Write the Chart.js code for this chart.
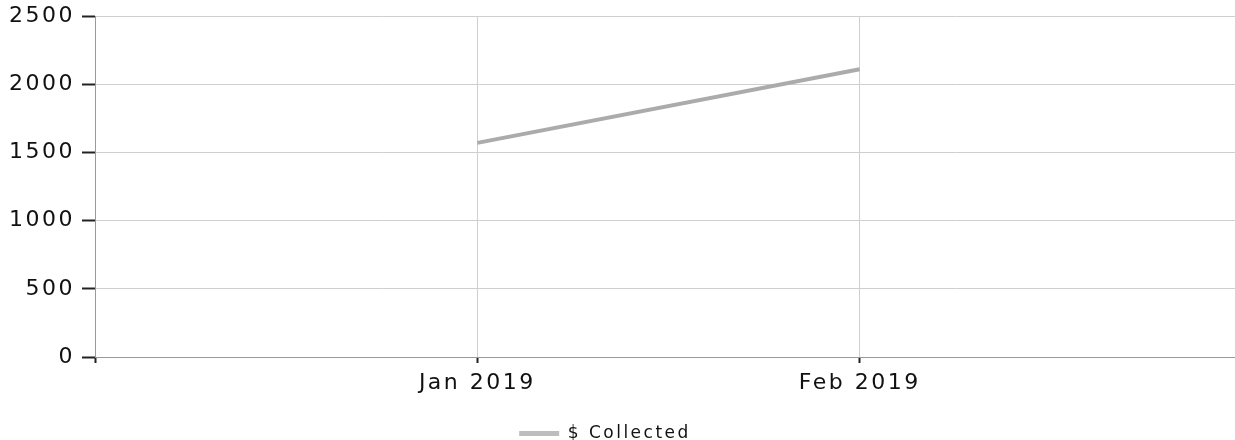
<!DOCTYPE html>
<html>
<head>
<meta charset="utf-8">
<title>$ Collected</title>
<script src="https://cdn.jsdelivr.net/npm/chart.js@4/dist/chart.umd.min.js"></script>
<style>
  html, body { margin: 0; padding: 0; background: #fff; overflow: hidden; }
  #wrap { position: relative; width: 1250px; height: 454px; }
</style>
</head>
<body>
<div id="wrap"><canvas id="chart"></canvas></div>
<script>
// Monthly amounts collected; the blank labels pad the axis on either side.
const months = ['', 'Jan 2019', 'Feb 2019', ''];
const collected = [null, 1570, 2110, null];
const yTicks = [0, 500, 1000, 1500, 2000, 2500];
const seriesName = '$ Collected';

// Wide letter spacing for all canvas text.
const spacing = {
  id: 'spacing',
  apply(chart) { chart.ctx.letterSpacing = '2.5px'; },
  beforeUpdate(chart) { this.apply(chart); },
  beforeLayout(chart) { this.apply(chart); },
  beforeDraw(chart) { this.apply(chart); },
  afterLayout(chart) {
    // nudge the legend a little left of centre
    if (chart.legend) { chart.legend.left -= 16; chart.legend.right -= 16; }
  }
};

const textFont = '"DejaVu Sans", sans-serif';

new Chart(document.getElementById('chart'), {
  type: 'line',
  data: {
    labels: months,
    datasets: [{
      label: seriesName,
      data: collected,
      borderColor: '#ababab',
      backgroundColor: '#bdbdbd',
      borderWidth: 4,
      pointRadius: 0,
      tension: 0,
      fill: false
    }]
  },
  options: {
    responsive: true,
    maintainAspectRatio: false,
    animation: false,
    events: [],
    layout: { padding: { top: 16, right: 8, bottom: 2, left: 0 } },
    font: { family: textFont },
    scales: {
      x: {
        offset: false,
        grid: { color: '#cfcfcf', lineWidth: 1, tickLength: 6, tickColor: '#222', tickWidth: 2 },
        border: { color: '#9a9a9a', width: 1 },
        ticks: {
          color: '#111', padding: 7, maxRotation: 0, autoSkip: false,
          font: { family: textFont, size: 22 }
        },
        afterFit(s) { s.height = 60; }
      },
      y: {
        min: 0, max: 2500,
        afterBuildTicks(s) { s.ticks = yTicks.map(v => ({ value: v })); },
        grid: { color: '#cfcfcf', lineWidth: 1, tickLength: 13, tickColor: '#222', tickWidth: 2 },
        border: { color: '#9a9a9a', width: 1 },
        ticks: {
          color: '#111', padding: 7,
          font: { family: textFont, size: 22 },
          callback: v => String(v)
        },
        afterFit(s) { s.width = 95; s.paddingTop = 0; s.paddingBottom = 0; }
      }
    },
    plugins: {
      legend: {
        position: 'bottom',
        labels: {
          boxWidth: 40, boxHeight: 5, padding: 8, color: '#111',
          font: { family: textFont, size: 17 },
          generateLabels(chart) {
            return chart.data.datasets.map((d, i) => ({
              text: d.label, fillStyle: '#bdbdbd', strokeStyle: '#bdbdbd',
              lineWidth: 0, hidden: false, datasetIndex: i, fontColor: '#111'
            }));
          }
        }
      },
      tooltip: { enabled: false }
    }
  },
  plugins: [spacing]
});
</script>
</body>
</html>
